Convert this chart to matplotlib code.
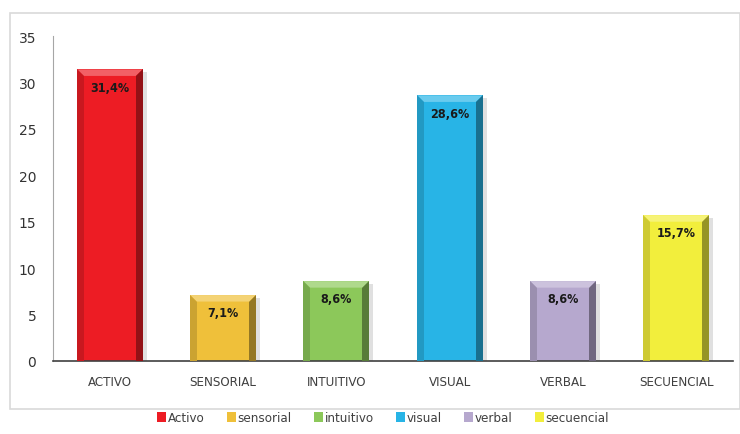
import matplotlib
matplotlib.use("Agg")
import matplotlib.pyplot as plt
from matplotlib.patches import Polygon, Rectangle
from matplotlib.colors import to_rgb
import numpy as np

categories = ["ACTIVO", "SENSORIAL", "INTUITIVO", "VISUAL", "VERBAL", "SECUENCIAL"]
values = [31.4, 7.1, 8.6, 28.6, 8.6, 15.7]
labels = ["31,4%", "7,1%", "8,6%", "28,6%", "8,6%", "15,7%"]
legend_names = ["Activo", "sensorial", "intuitivo", "visual", "verbal", "secuencial"]
colors = ["#ED1C24", "#EFC03A", "#8CC85A", "#28B4E6", "#B6A8CE", "#F2EE3C"]
yticks = [0, 5, 10, 15, 20, 25, 30, 35]

def shade(c, f):
    r = np.array(to_rgb(c))
    if f < 1:
        return tuple(r * f)
    return tuple(r + (1 - r) * (f - 1))

FONT = "DejaVu Sans"

fig = plt.figure(figsize=(7.4, 4.35), dpi=100)
fig.patches.append(Rectangle((10/740, 1-410/435), 730/740, (410-14)/435,
                             transform=fig.transFigure, fill=False,
                             edgecolor="#D9D9D9", linewidth=1.2))
ax = fig.add_axes([53/740, 1-362/435, 680/740, 325/435])
ax.set_xlim(-0.5, 5.5)
ax.set_ylim(0, 35)

w = 0.58
bx = 0.06
by = 0.7
for i, (v, c) in enumerate(zip(values, colors)):
    x0, x1 = i - w/2, i + w/2
    ax.add_patch(Rectangle((x1, 0), 0.035, v - 0.3, facecolor="#000000", alpha=0.12,
                           edgecolor="none", zorder=1))
    ax.bar(i, v, width=w, color=c, edgecolor="none", zorder=2, label=legend_names[i])
    top = Polygon([(x0, v), (x1, v), (x1 - bx, v - by), (x0 + bx, v - by)],
                  closed=True, facecolor=shade(c, 1.3), edgecolor="none", zorder=3)
    right = Polygon([(x1, v), (x1, 0), (x1 - bx, 0), (x1 - bx, v - by)],
                    closed=True, facecolor=shade(c, 0.62), edgecolor="none", zorder=3)
    left = Polygon([(x0, v), (x0, 0), (x0 + bx, 0), (x0 + bx, v - by)],
                   closed=True, facecolor=shade(c, 0.85), edgecolor="none", zorder=3)
    for p in (top, right, left):
        ax.add_patch(p)
    ax.text(i, v - 1.9, labels[i], ha="center", va="center", fontsize=9,
            fontweight="bold", color="#1a1a1a", family=FONT, fontstretch="condensed",
            zorder=4)

ax.set_xticks(range(len(categories)))
ax.set_xticklabels(categories, fontsize=9.5, color="#404040", family=FONT,
                   fontstretch="condensed")
ax.set_yticks(yticks)
ax.set_yticklabels([str(t) for t in yticks], fontsize=10, color="#333333")
ax.tick_params(axis="x", length=0, pad=10)
ax.tick_params(axis="y", length=0, pad=12)
for s in ("top", "right"):
    ax.spines[s].set_visible(False)
ax.spines["left"].set_color("#A6A6A6")
ax.spines["bottom"].set_color("#404040")
ax.spines["bottom"].set_linewidth(1.2)

leg = fig.legend(loc="center", bbox_to_anchor=(383/740, 1-419/435), ncol=6,
                 frameon=False, handlelength=0.7, handleheight=0.7,
                 handletextpad=0.1, columnspacing=1.7,
                 prop={"family": FONT, "size": 9.5, "stretch": "condensed"})
for t in leg.get_texts():
    t.set_color("#404040")

fig.savefig("out.png", dpi=100)
